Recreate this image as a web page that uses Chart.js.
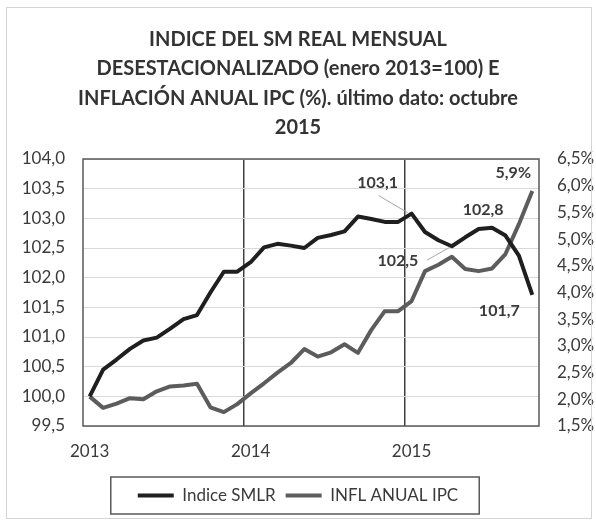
<!DOCTYPE html>
<html>
<head>
<meta charset="utf-8">
<script src="https://cdn.jsdelivr.net/npm/chart.js@4.4.0/dist/chart.umd.min.js"></script>
<style>
  html, body { margin: 0; padding: 0; background: #fff; }
  #wrap { position: relative; width: 596px; height: 524px; }
  #frame { position: absolute; left: 6px; top: 7px; width: 586px; height: 512px; border: 1px solid #d4d4d4; box-sizing: border-box; pointer-events: none; }
</style>
</head>
<body>
<div id="wrap">
  <canvas id="myChart" width="596" height="524"></canvas>
  <div id="frame"></div>
</div>
<script>
    // meses ene 2013 .. oct 2015
    const months = [
        'ene 2013', 'feb 2013', 'mar 2013', 'abr 2013', 'may 2013', 'jun 2013',
        'jul 2013', 'ago 2013', 'sep 2013', 'oct 2013', 'nov 2013', 'dic 2013',
        'ene 2014', 'feb 2014', 'mar 2014', 'abr 2014', 'may 2014', 'jun 2014',
        'jul 2014', 'ago 2014', 'sep 2014', 'oct 2014', 'nov 2014', 'dic 2014',
        'ene 2015', 'feb 2015', 'mar 2015', 'abr 2015', 'may 2015', 'jun 2015',
        'jul 2015', 'ago 2015', 'sep 2015', 'oct 2015'
    ];

    // indice SM real (enero 2013 = 100), eje izquierdo
    const smlr = [
        100.0, 100.45, 100.62, 100.8, 100.94, 100.99, 101.14, 101.3, 101.37, 101.75, 102.1, 102.1,
        102.26, 102.51, 102.57, 102.54, 102.5, 102.67, 102.72, 102.78, 103.03, 102.99, 102.94, 102.94,
        103.08, 102.77, 102.63, 102.53, 102.68, 102.82, 102.84, 102.71, 102.37, 101.71
    ];

    // inflacion anual IPC (%), eje derecho
    const inflacion = [
        2.05, 1.84, 1.92, 2.02, 2.0, 2.15, 2.24, 2.26, 2.29, 1.85, 1.76, 1.91,
        2.11, 2.3, 2.5, 2.68, 2.94, 2.8, 2.88, 3.03, 2.87, 3.3, 3.65, 3.65,
        3.84, 4.4, 4.52, 4.67, 4.44, 4.4, 4.45, 4.72, 5.28, 5.9
    ];

    const leftTicks = { min: 99.5, max: 104, step: 0.5 };
    const rightTicks = { min: 1.5, max: 6.5, step: 0.5 };

    const titleLines = [
        'INDICE DEL SM REAL MENSUAL',
        'DESESTACIONALIZADO (enero 2013=100) E',
        'INFLACIÓN ANUAL IPC (%). último dato: octubre',
        '2015'
    ];

    const FONT = 'Lato';
    const TXT = '#3a3a3a';

    const comma = (v, d) => v.toFixed(d).replace('.', ',');

    // etiquetas de datos: serie, punto, desplazamiento y linea guia
    const notes = [
        { ds: 0, i: 24, dx: -34, dy: -31, leader: [-33, -18, -4, -1] },
        { ds: 0, i: 27, dx: -54, dy: 15, leader: [-25, 14, -2, 1] },
        { ds: 0, i: 30, dx: -9, dy: -18 },
        { ds: 0, i: 33, dx: -33, dy: 16 },
        { ds: 1, i: 33, dx: -19, dy: -18 }
    ];

    const framePlugin = {
        id: 'frame',
        beforeDatasetsDraw(chart) {
            const { ctx, chartArea: a } = chart;
            ctx.save();
            ctx.strokeStyle = '#595959';
            ctx.lineWidth = 1.5;
            ctx.strokeRect(a.left, a.top, a.right - a.left, a.bottom - a.top);
            ctx.restore();
        }
    };

    const labelsPlugin = {
        id: 'notes',
        afterDatasetsDraw(chart) {
            const ctx = chart.ctx;
            ctx.save();
            notes.forEach(n => {
                const pt = chart.getDatasetMeta(n.ds).data[n.i];
                const v = chart.data.datasets[n.ds].data[n.i];
                if (n.leader) {
                    ctx.strokeStyle = '#a6a6a6';
                    ctx.lineWidth = 1;
                    ctx.beginPath();
                    ctx.moveTo(pt.x + n.leader[0], pt.y + n.leader[1]);
                    ctx.lineTo(pt.x + n.leader[2], pt.y + n.leader[3]);
                    ctx.stroke();
                }
                ctx.fillStyle = TXT;
                ctx.font = 'bold 16px ' + FONT;
                ctx.textAlign = 'center';
                ctx.textBaseline = 'middle';
                const txt = n.ds === 1 ? comma(v, 1) + '%' : comma(v, 1);
                ctx.fillText(txt, pt.x + n.dx, pt.y + n.dy);
            });
            ctx.restore();
        }
    };

    const legendBox = {
        id: 'legendBox',
        afterDraw(chart) {
            const boxes = chart.legend.legendHitBoxes;
            if (!boxes || !boxes.length) return;
            const first = boxes[0];
            const last = boxes[boxes.length - 1];
            const ctx = chart.ctx;
            ctx.save();
            ctx.strokeStyle = '#595959';
            ctx.lineWidth = 1.5;
            const x0 = first.left - 27;
            const x1 = last.left + last.width + 21;
            const y0 = first.top - 10;
            const y1 = first.top + first.height + 10;
            ctx.strokeRect(x0, y0, x1 - x0, y1 - y0);
            ctx.restore();
        }
    };

    const ctx = document.getElementById('myChart').getContext('2d');
    const chart = new Chart(ctx, {
        type: 'line',
        data: {
            labels: months,
            datasets: [{
                label: 'Indice SMLR',
                data: smlr,
                borderColor: '#1f1f1f',
                backgroundColor: '#1f1f1f',
                borderWidth: 4,
                pointRadius: 0,
                tension: 0,
                borderJoinStyle: 'round',
                yAxisID: 'y'
            }, {
                label: 'INFL ANUAL IPC',
                data: inflacion,
                borderColor: '#5c5c5c',
                backgroundColor: '#5c5c5c',
                borderWidth: 4,
                pointRadius: 0,
                tension: 0,
                borderJoinStyle: 'round',
                yAxisID: 'y1'
            }]
        },
        options: {
            responsive: false,
            animation: false,
            layout: { padding: { left: 0, right: 0, top: 0, bottom: 10 } },
            plugins: {
                title: {
                    display: true,
                    text: titleLines,
                    color: '#333333',
                    font: { family: FONT, size: 20, weight: 'bold', lineHeight: '29.3px' },
                    padding: { top: 25, bottom: 16.8 }
                },
                legend: {
                    position: 'bottom',
                    labels: {
                        usePointStyle: true,
                        pointStyle: 'line',
                        pointStyleWidth: 36,
                        padding: 10,
                        color: TXT,
                        font: { family: FONT, size: 17 }
                    }
                },
                tooltip: { enabled: false }
            },
            scales: {
                x: {
                    type: 'category',
                    offset: true,
                    grid: {
                        offset: true,
                        drawTicks: false,
                        lineWidth: 1.5,
                        color: c => (c.index === 12 || c.index === 24) ? '#404040' : 'rgba(0,0,0,0)'
                    },
                    border: { display: false },
                    ticks: {
                        autoSkip: false,
                        maxRotation: 0,
                        padding: 15,
                        color: TXT,
                        font: { family: FONT, size: 17 },
                        callback: (v, i) => months[i].startsWith('ene') ? months[i].slice(4) : ''
                    },
                    afterFit: s => { s.height = 51; }
                },
                y: {
                    position: 'left',
                    min: leftTicks.min,
                    max: leftTicks.max,
                    grid: { color: '#d9d9d9', lineWidth: 1, drawTicks: false },
                    border: { display: false },
                    ticks: {
                        stepSize: leftTicks.step,
                        padding: 18,
                        color: TXT,
                        font: { family: FONT, size: 17 },
                        callback: v => comma(v, 1)
                    },
                    afterFit: s => { s.width = 83; }
                },
                y1: {
                    position: 'right',
                    min: rightTicks.min,
                    max: rightTicks.max,
                    grid: { drawOnChartArea: false, drawTicks: false },
                    border: { display: false },
                    ticks: {
                        stepSize: rightTicks.step,
                        padding: 18,
                        color: TXT,
                        font: { family: FONT, size: 17 },
                        callback: v => comma(v, 1) + '%'
                    },
                    afterFit: s => { s.width = 57; }
                }
            }
        },
        plugins: [framePlugin, labelsPlugin, legendBox]
    });
</script>
</body>
</html>
